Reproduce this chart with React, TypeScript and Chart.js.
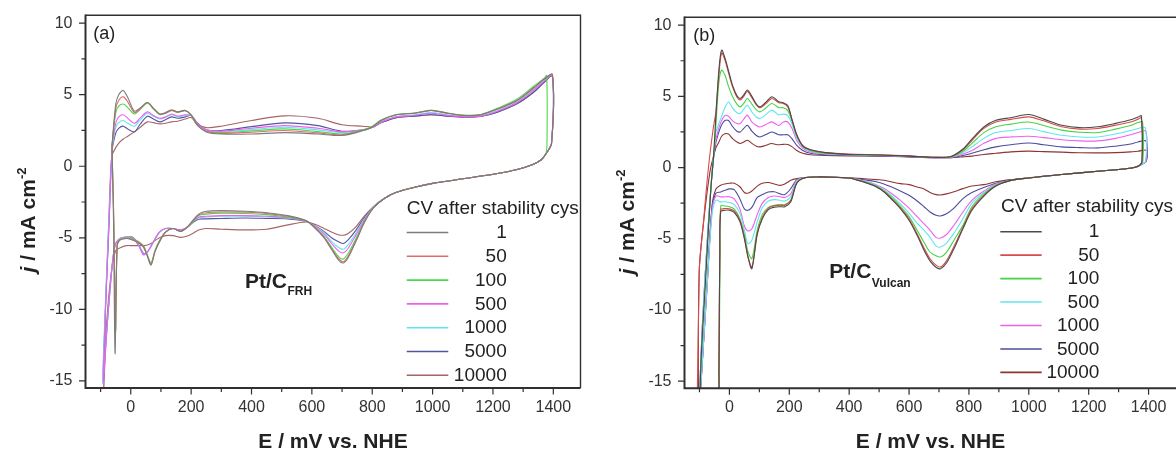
import React, { useEffect, useRef } from "react";
import { Chart, registerables } from "chart.js";

Chart.register(...registerables);

const FONT = "'Liberation Sans', Arial, Helvetica, sans-serif";
const INK = "#222222";

// ---------- shared labels / ticks ----------
const CYCLES = ["1", "50", "100", "500", "1000", "5000", "10000"];
const X_MAJOR = [0, 200, 400, 600, 800, 1000, 1200, 1400];
const X_MINOR = [-100, 100, 300, 500, 700, 900, 1100, 1300];
const Y_MAJOR = [-15, -10, -5, 0, 5, 10];
const Y_MINOR = [-12.5, -7.5, -2.5, 2.5, 7.5];
const LEGEND_TITLE = "CV after stability cys";
const X_TITLE = "E / mV vs. NHE";

const COLORS_A = ["#7c7c7c", "#e06a6a", "#4cd84c", "#f060f0", "#60e6ee", "#55559e", "#a86464"];
const COLORS_B = ["#4a4a4a", "#d94a4a", "#44d444", "#60e6ee", "#f060f0", "#4c4c9c", "#8e3434"];

// ---------- panel (a): Pt/C FRH ----------
const A_ANODIC_E = [-62, -50, -40, -25, -10, 12, 30, 55, 75, 96, 115, 135, 155, 180, 200, 220, 250, 300, 400, 510, 620, 700, 770, 800, 830, 880, 940, 995, 1050, 1105, 1160, 1215, 1280, 1335, 1370];
const A_AN_1 = [1.5, 4.3, 5.0, 5.3, 4.8, 3.85, 4.05, 4.45, 4.05, 3.65, 3.75, 3.95, 3.8, 3.9, 3.6, 2.9, 2.4, 2.25, 2.25, 2.35, 2.25, 2.15, 2.5, 2.75, 3.2, 3.6, 3.7, 3.9, 3.7, 3.55, 3.6, 4.0, 4.6, 5.5, 6.1];
const A_AN_50 = [1.5, 4.0, 4.6, 4.85, 4.5, 3.75, 4.0, 4.45, 4.05, 3.65, 3.7, 3.9, 3.78, 3.88, 3.6, 2.9, 2.45, 2.3, 2.38, 2.5, 2.33, 2.2, 2.5, 2.75, 3.2, 3.6, 3.7, 3.9, 3.7, 3.55, 3.6, 4.0, 4.6, 5.45, 6.1];
const A_AN_100 = [1.5, 3.7, 4.2, 4.35, 4.1, 3.65, 3.95, 4.4, 4.0, 3.6, 3.7, 3.9, 3.75, 3.9, 3.55, 2.85, 2.45, 2.35, 2.47, 2.61, 2.42, 2.25, 2.55, 2.8, 3.25, 3.62, 3.72, 3.92, 3.72, 3.57, 3.62, 4.05, 4.7, 5.6, 6.15];
const A_AN_500 = [1.4, 3.0, 3.45, 3.6, 3.35, 3.0, 3.35, 3.8, 3.55, 3.35, 3.45, 3.65, 3.5, 3.6, 3.55, 3.0, 2.55, 2.45, 2.66, 2.84, 2.66, 2.4, 2.55, 2.72, 3.1, 3.45, 3.55, 3.7, 3.55, 3.45, 3.5, 3.85, 4.45, 5.3, 5.95];
const A_AN_1000 = [1.3, 2.7, 3.05, 3.2, 3.0, 2.8, 3.2, 3.7, 3.5, 3.3, 3.4, 3.6, 3.45, 3.55, 3.55, 3.0, 2.5, 2.4, 2.56, 2.73, 2.54, 2.35, 2.55, 2.72, 3.1, 3.48, 3.6, 3.75, 3.6, 3.5, 3.55, 3.9, 4.5, 5.35, 6.0];
const A_AN_5000 = [1.2, 2.3, 2.65, 2.8, 2.6, 2.4, 2.9, 3.5, 3.3, 3.1, 3.25, 3.45, 3.35, 3.45, 3.55, 3.05, 2.55, 2.5, 2.77, 3.03, 2.84, 2.45, 2.55, 2.7, 3.05, 3.4, 3.5, 3.6, 3.5, 3.43, 3.48, 3.78, 4.36, 5.17, 5.87];
const A_AN_10000 = [0.8, 1.3, 1.6, 1.9, 2.1, 2.4, 2.7, 3.1, 3.05, 2.96, 3.0, 3.1, 3.15, 3.3, 3.4, 2.95, 2.7, 2.8, 3.2, 3.52, 3.35, 2.9, 2.8, 2.75, 3.05, 3.4, 3.5, 3.6, 3.5, 3.45, 3.5, 3.8, 4.4, 5.2, 5.9];

const A_UPPER = [
  [[1397, 6.4], [1394, 1.6]],
  [[1397, 6.4], [1394, 1.6]],
  [[1378, 6.35], [1379, 1.6]],
  [[1397, 6.35], [1394, 1.6]],
  [[1397, 6.35], [1394, 1.6]],
  [[1397, 6.3], [1394, 1.6]],
  [[1397, 6.3], [1394, 1.6]],
];

const A_CATH_E = [1375, 1360, 1330, 1280, 1210, 1100, 1000, 940, 880, 840, 805, 775, 745, 720, 705, 690, 665, 640, 610, 580, 520, 450, 380, 300, 250, 225, 205, 185, 165, 140, 115, 95, 80, 67, 55, 42, 25, 5, -15, -35];
const A_CA_1 = [0.85, 0.45, 0.1, -0.23, -0.53, -0.88, -1.2, -1.47, -1.82, -2.25, -2.9, -3.9, -5.3, -6.4, -6.76, -6.6, -5.8, -5.0, -4.3, -3.8, -3.45, -3.25, -3.15, -3.1, -3.15, -3.35, -3.8, -4.3, -4.55, -4.35, -4.6, -5.3, -6.0, -6.9, -6.3, -5.65, -5.35, -5.15, -5.05, -5.15];
const A_CA_50 = [0.85, 0.45, 0.1, -0.23, -0.53, -0.88, -1.2, -1.47, -1.82, -2.25, -2.88, -3.85, -5.25, -6.3, -6.67, -6.5, -5.75, -4.95, -4.3, -3.8, -3.5, -3.3, -3.22, -3.2, -3.25, -3.4, -3.85, -4.3, -4.55, -4.35, -4.6, -5.25, -5.95, -6.85, -6.25, -5.6, -5.3, -5.1, -5.05, -5.15];
const A_CA_100 = [0.85, 0.45, 0.1, -0.23, -0.53, -0.88, -1.2, -1.47, -1.82, -2.25, -2.85, -3.8, -5.1, -6.1, -6.48, -6.35, -5.65, -4.9, -4.3, -3.82, -3.55, -3.38, -3.3, -3.28, -3.35, -3.45, -3.9, -4.3, -4.55, -4.35, -4.6, -5.2, -5.9, -6.75, -6.2, -5.55, -5.25, -5.05, -5.0, -5.1];
const A_CA_500 = [0.85, 0.45, 0.1, -0.23, -0.53, -0.88, -1.2, -1.47, -1.82, -2.25, -2.85, -3.7, -4.85, -5.75, -6.05, -5.95, -5.4, -4.75, -4.2, -3.82, -3.6, -3.5, -3.45, -3.45, -3.5, -3.55, -3.9, -4.3, -4.45, -4.35, -4.35, -4.6, -5.1, -5.6, -6.0, -6.2, -5.5, -5.0, -4.95, -5.05];
const A_CA_1000 = [0.85, 0.45, 0.1, -0.23, -0.53, -0.88, -1.2, -1.47, -1.82, -2.25, -2.82, -3.65, -4.7, -5.5, -5.8, -5.7, -5.25, -4.65, -4.18, -3.83, -3.62, -3.55, -3.5, -3.5, -3.55, -3.6, -3.9, -4.3, -4.45, -4.35, -4.35, -4.6, -5.1, -5.6, -6.0, -6.15, -5.5, -5.0, -4.95, -5.05];
const A_CA_5000 = [0.85, 0.45, 0.1, -0.23, -0.53, -0.88, -1.2, -1.47, -1.82, -2.25, -2.8, -3.55, -4.5, -5.15, -5.4, -5.3, -5.0, -4.55, -4.15, -3.85, -3.68, -3.65, -3.62, -3.65, -3.68, -3.7, -3.95, -4.3, -4.45, -4.35, -4.35, -4.6, -5.1, -5.6, -6.0, -6.1, -5.45, -4.95, -4.95, -5.05];
const A_CA_10000 = [0.85, 0.45, 0.1, -0.23, -0.53, -0.88, -1.2, -1.47, -1.82, -2.25, -2.8, -3.45, -4.25, -4.7, -4.82, -4.8, -4.6, -4.35, -4.05, -3.9, -4.1, -4.4, -4.45, -4.4, -4.35, -4.45, -4.7, -4.9, -4.97, -4.85, -4.85, -5.0, -5.2, -5.4, -5.5, -5.55, -5.55, -5.55, -5.55, -5.7];

const A_LOWER = [
  [[-45, -5.5], [-52, -13.1], [-57, -4], [-61, 0.3]],
  [[-45, -5.5], [-51, -11.6], [-56, -4], [-61, 0.3]],
  [[-45, -5.45], [-50, -11.5], [-56, -4], [-61, 0.3]],
  [[-50, -5.4], [-60, -6.6], [-76, -10.5], [-91, -15.1], [-83, -9.5], [-72, -4], [-66, -0.5]],
  [[-50, -5.4], [-60, -6.6], [-76, -10.5], [-93, -15.2], [-84, -9.5], [-73, -4], [-66, -0.5]],
  [[-50, -5.4], [-60, -6.6], [-76, -10.5], [-92, -15.0], [-83, -9.5], [-72, -4], [-66, -0.5]],
  [[-50, -5.9], [-65, -7.5], [-80, -11], [-90, -15.8], [-84, -10], [-74, -4.5], [-67, -0.5]],
];

// ---------- panel (b): Pt/C Vulcan ----------
const B_ANODIC_E = [-45, -35, -26, -15, -3, 10, 25, 36, 48, 60, 75, 90, 102, 120, 141, 155, 165, 180, 195, 210, 225, 245, 270, 320, 400, 500, 600, 680, 740, 780, 810, 850, 890, 940, 1000, 1050, 1110, 1170, 1230, 1290, 1340, 1365];
const B_AN_1 = [3.7, 6.9, 8.25, 7.7, 6.8, 5.8, 5.05, 4.85, 5.1, 5.44, 5.0, 4.45, 4.26, 4.55, 4.97, 4.8, 4.62, 4.55, 4.35, 3.3, 2.3, 1.5, 1.25, 1.05, 0.92, 0.88, 0.8, 0.72, 0.78, 1.3, 2.0, 2.85, 3.32, 3.5, 3.72, 3.4, 2.97, 2.8, 2.86, 3.1, 3.35, 3.55];
const B_AN_50 = [3.9, 6.5, 8.05, 7.55, 6.65, 5.7, 4.95, 4.75, 5.0, 5.35, 4.9, 4.4, 4.2, 4.45, 4.85, 4.7, 4.55, 4.5, 4.25, 3.3, 2.3, 1.55, 1.25, 1.05, 0.95, 0.9, 0.82, 0.72, 0.78, 1.25, 1.9, 2.75, 3.2, 3.38, 3.56, 3.28, 2.86, 2.7, 2.74, 2.98, 3.2, 3.4];
const B_AN_100 = [3.0, 6.0, 6.84, 6.5, 5.7, 5.0, 4.45, 4.26, 4.5, 4.85, 4.45, 4.05, 3.91, 4.15, 4.5, 4.35, 4.2, 4.2, 4.0, 3.2, 2.2, 1.5, 1.2, 1.0, 0.92, 0.88, 0.8, 0.72, 0.75, 1.15, 1.7, 2.45, 2.86, 3.05, 3.2, 2.95, 2.63, 2.48, 2.46, 2.7, 2.95, 3.16];
const B_AN_500 = [2.5, 3.1, 3.6, 4.2, 4.6, 4.2, 3.85, 3.79, 4.1, 4.38, 3.9, 3.55, 3.44, 3.7, 4.03, 3.85, 3.7, 3.75, 3.65, 3.0, 2.1, 1.45, 1.15, 0.98, 0.9, 0.86, 0.8, 0.72, 0.74, 1.05, 1.45, 2.05, 2.46, 2.6, 2.74, 2.52, 2.27, 2.15, 2.15, 2.35, 2.6, 2.74];
const B_AN_1000 = [2.0, 2.8, 3.3, 3.65, 3.6, 3.3, 3.1, 3.09, 3.4, 3.68, 3.2, 2.95, 2.85, 3.0, 3.21, 3.05, 2.95, 3.2, 3.2, 2.7, 1.9, 1.35, 1.1, 0.95, 0.88, 0.84, 0.78, 0.7, 0.72, 0.95, 1.2, 1.7, 2.05, 2.15, 2.2, 2.1, 1.95, 1.87, 1.87, 2.05, 2.3, 2.46];
const B_AN_5000 = [1.8, 2.5, 3.0, 3.3, 3.3, 2.9, 2.55, 2.5, 2.75, 2.97, 2.55, 2.25, 2.15, 2.3, 2.5, 2.4, 2.3, 2.3, 2.3, 2.0, 1.55, 1.2, 1.0, 0.9, 0.85, 0.82, 0.76, 0.7, 0.7, 0.85, 1.0, 1.25, 1.45, 1.6, 1.72, 1.6, 1.45, 1.4, 1.38, 1.5, 1.65, 1.8];
const B_AN_10000 = [1.4, 1.8, 2.2, 2.38, 2.35, 2.05, 1.8, 1.69, 1.8, 1.92, 1.7, 1.5, 1.45, 1.55, 1.69, 1.62, 1.6, 1.63, 1.62, 1.45, 1.2, 1.0, 0.9, 0.85, 0.82, 0.8, 0.75, 0.7, 0.7, 0.75, 0.8, 0.92, 1.0, 1.1, 1.15, 1.12, 1.08, 1.04, 1.03, 1.05, 1.1, 1.15];

const B_UPPER = [
  [[1376, 3.63], [1378, 0.45]],
  [[1376, 3.48], [1378, 0.45]],
  [[1380, 3.2], [1381, 0.45]],
  [[1389, 2.78], [1390, 0.45]],
  [[1391, 2.55], [1391, 0.45]],
  [[1392, 1.85], [1392, 0.45]],
  [[1392, 1.2], [1392, 0.45]],
];

const B_CATH_E = [1370, 1355, 1330, 1290, 1230, 1110, 1000, 940, 890, 850, 810, 780, 750, 725, 705, 690, 670, 650, 627, 600, 571, 540, 516, 490, 460, 430, 405, 350, 293, 250, 225, 205, 185, 170, 150, 130, 110, 93, 75, 62, 50, 35, 16, 0, -15, -29];
const B_CA_1 = [0.15, 0.02, -0.07, -0.15, -0.26, -0.49, -0.73, -0.9, -1.3, -2.0, -3.0, -4.3, -5.7, -6.7, -7.1, -7.0, -6.55, -5.8, -4.76, -3.7, -2.88, -2.2, -1.71, -1.35, -1.1, -0.9, -0.75, -0.68, -0.66, -0.73, -1.1, -2.4, -2.75, -2.75, -2.78, -2.95, -3.6, -4.7, -7.1, -6.3, -5.0, -3.8, -3.15, -3.0, -3.0, -3.1];
const B_CA_50 = [0.15, 0.02, -0.07, -0.15, -0.26, -0.49, -0.73, -0.9, -1.28, -1.95, -2.9, -4.2, -5.55, -6.55, -6.98, -6.85, -6.4, -5.65, -4.65, -3.6, -2.82, -2.15, -1.68, -1.33, -1.08, -0.9, -0.75, -0.68, -0.66, -0.73, -1.08, -2.3, -2.65, -2.65, -2.68, -2.85, -3.5, -4.6, -7.0, -6.2, -4.9, -3.7, -3.05, -2.9, -2.88, -2.95];
const B_CA_100 = [0.15, 0.02, -0.07, -0.15, -0.26, -0.49, -0.73, -0.9, -1.25, -1.85, -2.75, -4.06, -5.1, -5.95, -6.28, -6.2, -5.93, -5.25, -4.4, -3.45, -2.7, -2.05, -1.62, -1.3, -1.05, -0.88, -0.75, -0.68, -0.66, -0.72, -1.05, -2.3, -2.6, -2.6, -2.65, -2.8, -3.3, -4.4, -6.4, -5.9, -4.7, -3.6, -2.9, -2.75, -2.7, -2.7];
const B_CA_500 = [0.15, 0.02, -0.07, -0.15, -0.26, -0.49, -0.73, -0.9, -1.2, -1.75, -2.5, -3.59, -4.6, -5.3, -5.58, -5.5, -4.88, -4.4, -3.9, -3.2, -2.55, -1.95, -1.55, -1.25, -1.0, -0.85, -0.75, -0.68, -0.66, -0.72, -0.95, -2.05, -2.35, -2.3, -2.25, -2.35, -2.8, -3.8, -5.1, -5.35, -4.4, -3.2, -2.6, -2.45, -2.4, -2.41];
const B_CA_1000 = [0.15, 0.02, -0.07, -0.15, -0.26, -0.49, -0.73, -0.9, -1.15, -1.65, -2.3, -3.12, -4.05, -4.7, -4.95, -4.9, -4.4, -3.95, -3.45, -2.85, -2.3, -1.8, -1.45, -1.2, -0.98, -0.85, -0.75, -0.68, -0.66, -0.72, -0.9, -1.85, -2.1, -2.05, -2.0, -2.1, -2.5, -3.3, -4.3, -4.45, -4.1, -2.9, -2.2, -2.05, -2.05, -2.06];
const B_CA_5000 = [0.15, 0.02, -0.07, -0.15, -0.26, -0.49, -0.73, -0.88, -1.1, -1.4, -1.75, -2.18, -2.85, -3.25, -3.4, -3.35, -3.12, -2.75, -2.35, -1.95, -1.65, -1.35, -1.15, -1.0, -0.88, -0.8, -0.75, -0.68, -0.66, -0.72, -0.85, -1.48, -1.9, -1.85, -1.7, -1.72, -1.9, -2.1, -2.8, -3.0, -2.9, -2.2, -1.55, -1.5, -1.6, -1.71];
const B_CA_10000 = [0.15, 0.02, -0.07, -0.15, -0.26, -0.49, -0.72, -0.85, -1.0, -1.2, -1.3, -1.48, -1.7, -1.85, -1.93, -1.9, -1.75, -1.5, -1.36, -1.2, -1.13, -1.0, -0.89, -0.85, -0.8, -0.75, -0.72, -0.68, -0.66, -0.7, -0.78, -0.9, -1.15, -1.25, -1.15, -1.05, -1.1, -1.3, -1.65, -1.8, -1.75, -1.35, -1.1, -1.1, -1.15, -1.24];

const B_LOWER = [
  [[-32, -6], [-35, -14], [-37, -30], [-100, -30], [-97, -15], [-80, -8], [-62, -1.5], [-53, 0.8]],
  [[-32, -6], [-35, -14], [-37, -30], [-101, -30], [-101, -7.4], [-87, -3.9], [-70, 0], [-55, 2.6]],
  [[-31, -6], [-34, -14], [-36, -30], [-100, -30], [-97, -15], [-80, -8], [-62, -1.5], [-53, 0.6]],
  [[-45, -2.3], [-58, -3.3], [-75, -8.5], [-100, -16.5], [-90, -11], [-72, -4.5], [-55, 0.4]],
  [[-45, -2.0], [-58, -3.0], [-75, -8.5], [-100, -16.5], [-90, -11], [-72, -4.5], [-55, 0.4]],
  [[-45, -1.8], [-58, -2.8], [-75, -8.5], [-100, -16.5], [-90, -11], [-72, -4.5], [-55, 0.3]],
  [[-45, -1.5], [-58, -2.7], [-75, -8.3], [-101, -16.5], [-101, -7.4], [-85, -3.6], [-65, -0.3], [-53, 0.8]],
];

// ---------- helpers ----------
function buildLoop(anE, anJ, upper, caE, caJ, lower) {
  const pts = [];
  anE.forEach((e, k) => pts.push({ x: e, y: anJ[k] }));
  upper.forEach((p) => pts.push({ x: p[0], y: p[1] }));
  caE.forEach((e, k) => pts.push({ x: e, y: caJ[k] }));
  lower.forEach((p) => pts.push({ x: p[0], y: p[1] }));
  pts.push({ x: anE[0], y: anJ[0] });
  return pts;
}

const PANEL_A = {
  key: "a",
  width: 590,
  area: { left: 85.5, top: 15.3, right: 580.5, bottom: 388 },
  xMax: 1490,
  colors: COLORS_A,
  anodicE: A_ANODIC_E,
  anodic: [A_AN_1, A_AN_50, A_AN_100, A_AN_500, A_AN_1000, A_AN_5000, A_AN_10000],
  upper: A_UPPER,
  cathE: A_CATH_E,
  cathodic: [A_CA_1, A_CA_50, A_CA_100, A_CA_500, A_CA_1000, A_CA_5000, A_CA_10000],
  lower: A_LOWER,
  tag: "(a)",
  tagPos: [93.3, 34],
  sample: { main: "Pt/C", sub: "FRH", x: 245, y: 288, subY: 295 },
  yTitle: { x: 34.5, y: 220 },
  xTitle: { x: 333, y: 447.5 },
  legend: { titleX: 406.7, titleY: 209, lineX0: 406.7, lineX1: 448.3, y0: 232.5, dy: 23.8, numX: 506.7 },
};

const PANEL_B = {
  key: "b",
  width: 600,
  area: { left: 94.5, top: 17.3, right: 587, bottom: 388.3 },
  xMax: 1495,
  colors: COLORS_B,
  anodicE: B_ANODIC_E,
  anodic: [B_AN_1, B_AN_50, B_AN_100, B_AN_500, B_AN_1000, B_AN_5000, B_AN_10000],
  upper: B_UPPER,
  cathE: B_CATH_E,
  cathodic: [B_CA_1, B_CA_50, B_CA_100, B_CA_500, B_CA_1000, B_CA_5000, B_CA_10000],
  lower: B_LOWER,
  tag: "(b)",
  tagPos: [103.3, 36],
  sample: { main: "Pt/C", sub: "Vulcan", x: 239.3, y: 278, subY: 286.5 },
  yTitle: { x: 43.9, y: 222 },
  xTitle: { x: 340.5, y: 447.5 },
  legend: { titleX: 411, titleY: 207, lineX0: 410.3, lineX1: 451.7, y0: 231.7, dy: 23.45, numX: 509.3 },
};

function makeDecor(cfg) {
  return {
    id: "decor_" + cfg.key,
    afterDraw(chart) {
      const ctx = chart.ctx;
      const { left, top, right, bottom } = chart.chartArea;
      const xs = chart.scales.x;
      const ys = chart.scales.y;
      ctx.save();

      // frame
      ctx.strokeStyle = "#303030";
      ctx.lineWidth = 1.4;
      ctx.beginPath();
      ctx.moveTo(left, top);
      ctx.lineTo(right, top);
      ctx.lineTo(right, bottom);
      ctx.stroke();
      ctx.lineWidth = 2;
      ctx.beginPath();
      ctx.moveTo(left, top - 0.7);
      ctx.lineTo(left, bottom);
      ctx.lineTo(right, bottom);
      ctx.stroke();

      // tick marks (outward)
      ctx.lineWidth = 1.2;
      ctx.beginPath();
      const xt = (v, len) => {
        const px = xs.getPixelForValue(v);
        ctx.moveTo(px, bottom);
        ctx.lineTo(px, bottom + len);
      };
      const yt = (v, len) => {
        const py = ys.getPixelForValue(v);
        ctx.moveTo(left, py);
        ctx.lineTo(left - len, py);
      };
      X_MAJOR.forEach((v) => xt(v, 6.5));
      X_MINOR.forEach((v) => xt(v, 4));
      Y_MAJOR.forEach((v) => yt(v, 6.5));
      Y_MINOR.forEach((v) => yt(v, 4));
      ctx.stroke();

      ctx.fillStyle = INK;

      // panel tag
      ctx.font = `18px ${FONT}`;
      ctx.textAlign = "left";
      ctx.textBaseline = "middle";
      ctx.fillText(cfg.tag, cfg.tagPos[0], cfg.tagPos[1]);

      // sample label with subscript
      ctx.textBaseline = "alphabetic";
      ctx.font = `bold 21px ${FONT}`;
      ctx.fillText(cfg.sample.main, cfg.sample.x, cfg.sample.y);
      const mw = ctx.measureText(cfg.sample.main).width;
      ctx.font = `bold 12px ${FONT}`;
      ctx.fillText(cfg.sample.sub, cfg.sample.x + mw + 0.5, cfg.sample.subY);

      // x title
      ctx.font = `bold 21px ${FONT}`;
      ctx.textAlign = "center";
      ctx.fillText(X_TITLE, cfg.xTitle.x, cfg.xTitle.y);

      // y title: j / mA cm^-2 (rotated)
      ctx.save();
      ctx.translate(cfg.yTitle.x, cfg.yTitle.y);
      ctx.rotate(-Math.PI / 2);
      ctx.textAlign = "left";
      const parts = [
        { t: "j", f: `italic bold 21px ${FONT}`, dy: 0 },
        { t: " / mA cm", f: `bold 21px ${FONT}`, dy: 0 },
        { t: "-2", f: `bold 13px ${FONT}`, dy: -9 },
      ];
      let total = 0;
      parts.forEach((p) => {
        ctx.font = p.f;
        total += ctx.measureText(p.t).width;
      });
      let cx = -total / 2;
      parts.forEach((p) => {
        ctx.font = p.f;
        ctx.fillText(p.t, cx, p.dy);
        cx += ctx.measureText(p.t).width;
      });
      ctx.restore();

      // legend
      const lg = cfg.legend;
      ctx.font = `19px ${FONT}`;
      ctx.textAlign = "left";
      ctx.textBaseline = "middle";
      ctx.fillStyle = INK;
      ctx.fillText(LEGEND_TITLE, lg.titleX, lg.titleY);
      chart.data.datasets.forEach((ds, i) => {
        const y = lg.y0 + i * lg.dy;
        ctx.strokeStyle = ds.borderColor;
        ctx.lineWidth = 1.6;
        ctx.beginPath();
        ctx.moveTo(lg.lineX0, y);
        ctx.lineTo(lg.lineX1, y);
        ctx.stroke();
        ctx.textAlign = "right";
        ctx.fillText(ds.label, lg.numX, y + 0.5);
      });

      ctx.restore();
    },
  };
}

function CvPanel({ cfg }) {
  const ref = useRef(null);
  useEffect(() => {
    const H = 450;
    const area = cfg.area;
    const datasets = CYCLES.map((c, i) => ({
      label: c,
      data: buildLoop(cfg.anodicE, cfg.anodic[i], cfg.upper[i], cfg.cathE, cfg.cathodic[i], cfg.lower[i]),
      borderColor: cfg.colors[i],
      backgroundColor: cfg.colors[i],
      borderWidth: 1.1,
      pointRadius: 0,
      tension: 0.3,
      fill: false,
    }));
    const tickFont = { family: FONT, size: 16 };
    const chart = new Chart(ref.current, {
      type: "line",
      data: { datasets },
      options: {
        animation: false,
        responsive: false,
        devicePixelRatio: 1,
        events: [],
        layout: { padding: { left: 0, top: area.top, right: cfg.width - area.right, bottom: 0 } },
        plugins: { legend: { display: false }, tooltip: { enabled: false }, title: { display: false } },
        scales: {
          x: {
            type: "linear",
            min: -150,
            max: cfg.xMax,
            grid: { display: false, drawTicks: true, tickLength: 6 },
            border: { display: false },
            ticks: { font: tickFont, color: "#333", padding: 4, maxRotation: 0, autoSkip: false, callback: (v) => String(v) },
            afterBuildTicks: (s) => {
              s.ticks = X_MAJOR.map((v) => ({ value: v }));
            },
            afterFit: (s) => {
              s.height = H - area.bottom;
              s.paddingLeft = 0;
              s.paddingRight = 0;
            },
          },
          y: {
            type: "linear",
            min: -15.5,
            max: 10.55,
            grid: { display: false, drawTicks: true, tickLength: 6 },
            border: { display: false },
            ticks: { font: tickFont, color: "#333", padding: 7, autoSkip: false, callback: (v) => String(v) },
            afterBuildTicks: (s) => {
              s.ticks = Y_MAJOR.map((v) => ({ value: v }));
            },
            afterFit: (s) => {
              s.width = area.left;
              s.paddingTop = 0;
              s.paddingBottom = 0;
            },
          },
        },
      },
      plugins: [makeDecor(cfg)],
    });
    return () => chart.destroy();
  }, []);
  return <canvas ref={ref} width={cfg.width} height={450} style={{ display: "block", width: cfg.width, height: 450 }} />;
}

export default function App() {
  return (
    <div style={{ position: "fixed", left: 0, top: 0, width: 1176, height: 450, overflow: "hidden", background: "#ffffff" }}>
      <div style={{ position: "absolute", left: 0, top: 0 }}>
        <CvPanel cfg={PANEL_A} />
      </div>
      <div style={{ position: "absolute", left: 590, top: 0 }}>
        <CvPanel cfg={PANEL_B} />
      </div>
    </div>
  );
}
